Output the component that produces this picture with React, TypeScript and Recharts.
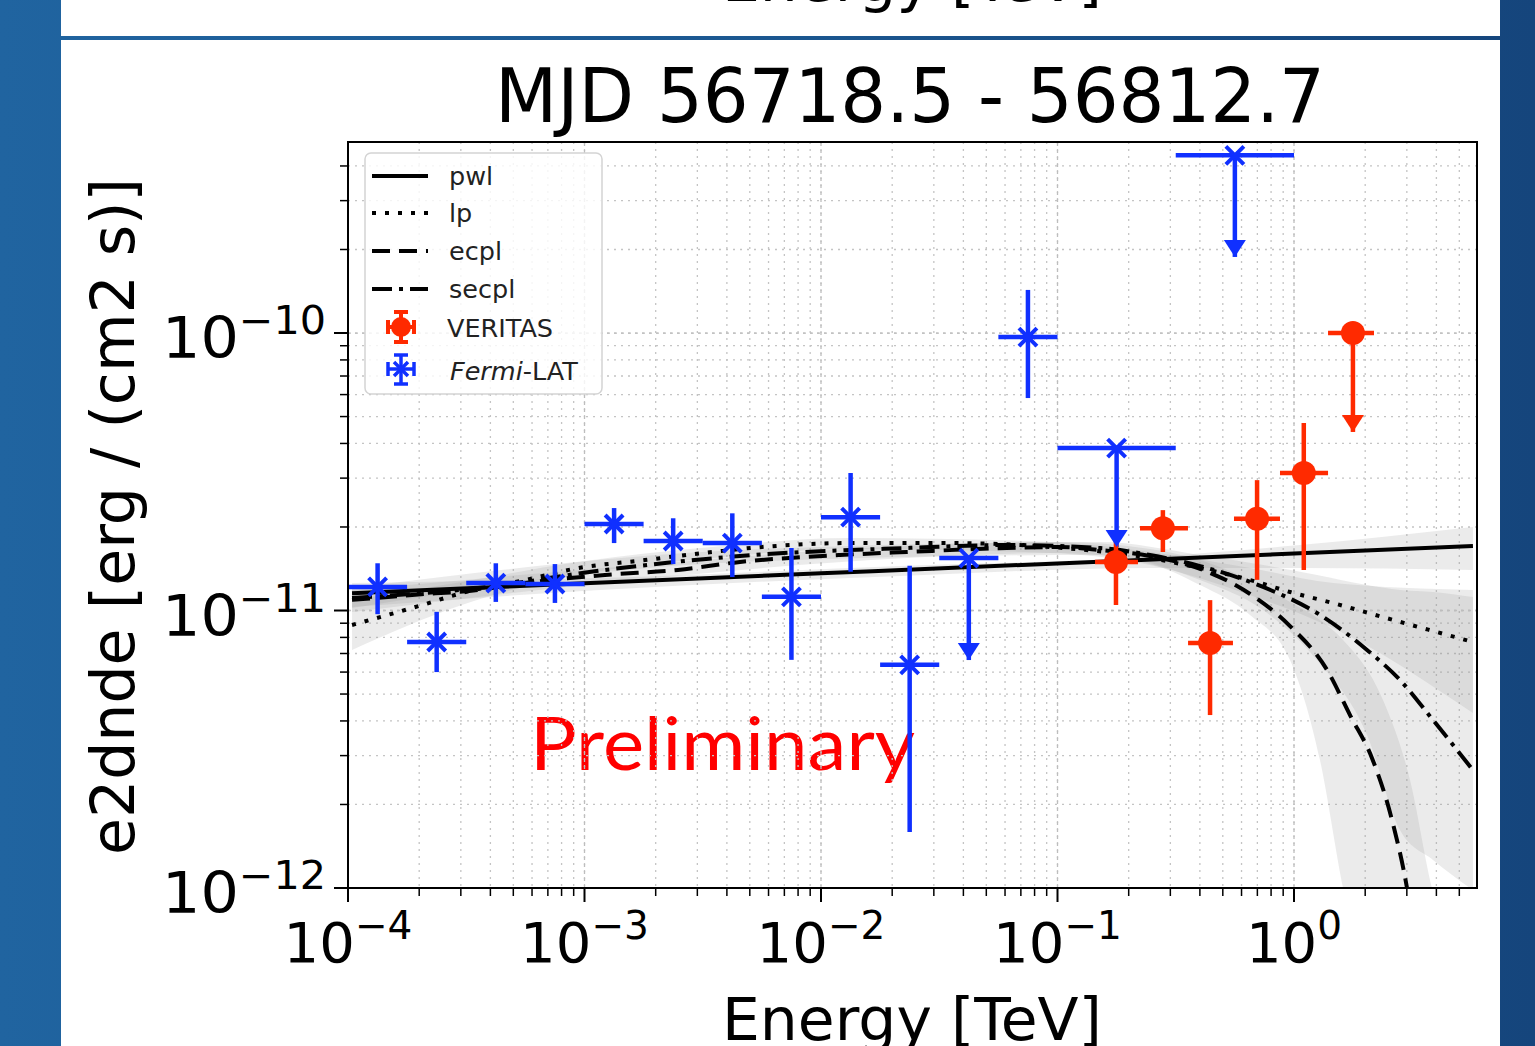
import React from 'react';
import {
  ComposedChart,
  Line,
  Area,
  Scatter,
  ErrorBar,
  XAxis,
  YAxis,
  CartesianGrid,
  ReferenceLine,
} from 'recharts';

const FONT = '"DejaVu Sans", sans-serif';
const BLUE = '#1030ff';
const RED = '#ff2a00';

// Fermi-LAT bins (energy in TeV, e2dnde in erg/cm2/s)
const fermiE = [1.334e-4, 2.371e-4, 4.217e-4, 7.499e-4, 1.334e-3, 2.371e-3, 4.217e-3, 7.499e-3, 1.334e-2, 2.371e-2, 4.217e-2, 7.499e-2, 0.1778, 0.5623];
const fermiELo = [1.0e-4, 1.778e-4, 3.162e-4, 5.623e-4, 1.0e-3, 1.778e-3, 3.162e-3, 5.623e-3, 1.0e-2, 1.778e-2, 3.162e-2, 5.623e-2, 0.1, 0.3162];
const fermiEHi = [1.778e-4, 3.162e-4, 5.623e-4, 1.0e-3, 1.778e-3, 3.162e-3, 5.623e-3, 1.0e-2, 1.778e-2, 3.162e-2, 5.623e-2, 0.1, 0.3162, 1.0];
const fermiF = [1.216e-11, 7.7e-12, 1.256e-11, 1.246e-11, 2.05e-11, 1.78e-11, 1.75e-11, 1.12e-11, 2.17e-11, 6.37e-12, 1.545e-11, 9.67e-11, 3.85e-11, 4.37e-10];
const fermiFLo = [9.7e-12, 6.0e-12, 1.074e-11, 1.065e-11, 1.75e-11, 1.47e-11, 1.32e-11, 6.64e-12, 1.38e-11, 1.59e-12, 6.63e-12, 5.83e-11, 1.694e-11, 1.88e-10];
const fermiFHi = [1.48e-11, 9.89e-12, 1.48e-11, 1.47e-11, 2.34e-11, 2.15e-11, 2.24e-11, 1.68e-11, 3.13e-11, 1.45e-11, 1.545e-11, 1.43e-10, 3.85e-11, 4.37e-10];
const fermiUL = [false, false, false, false, false, false, false, false, false, false, true, false, true, true];

// VERITAS bins
const vtsE = [0.1767, 0.279, 0.4416, 0.698, 1.1, 1.775];
const vtsELo = [0.1441, 0.2233, 0.3565, 0.5575, 0.8725, 1.393];
const vtsEHi = [0.2189, 0.3562, 0.552, 0.8725, 1.393, 2.179];
const vtsF = [1.497e-11, 1.98e-11, 7.64e-12, 2.14e-11, 3.13e-11, 1.0e-10];
const vtsFLo = [1.047e-11, 1.625e-11, 4.2e-12, 1.29e-11, 1.4e-11, 4.4e-11];
const vtsFHi = [1.795e-11, 2.3e-11, 1.09e-11, 2.95e-11, 4.74e-11, 1.0e-10];
const vtsUL = [false, false, false, false, false, true];

// model curves
const pwlE = [1.04e-4, 1e-3, 1e-2, 1e-1, 1, 5.71];
const pwlF = [1.155e-11, 1.253e-11, 1.361e-11, 1.478e-11, 1.605e-11, 1.708e-11];

const lpE = [1.04e-4, 2.06e-4, 3.03e-4, 5.6e-4, 9.39e-4, 1.8e-3, 3.46e-3, 5.63e-3, 1.327e-2, 3.51e-2, 9.3e-2, 0.246, 0.401, 0.652, 0.962, 1.462, 2.377, 5.71];
const lpF = [8.87e-12, 1.047e-11, 1.156e-11, 1.288e-11, 1.422e-11, 1.52e-11, 1.625e-11, 1.694e-11, 1.75e-11, 1.75e-11, 1.694e-11, 1.545e-11, 1.422e-11, 1.288e-11, 1.166e-11, 1.064e-11, 9.47e-12, 7.7e-12];

const ecplE = [1.04e-4, 1.865e-4, 3.55e-4, 5.6e-4, 1.221e-3, 2.485e-3, 4.545e-3, 1.203e-2, 2.31e-2, 6.115e-2, 0.1025, 0.1514, 0.246, 0.4123, 0.652, 0.962, 1.379, 1.725, 2.15, 2.6, 3.005, 3.3];
const ecplF = [1.092e-11, 1.138e-11, 1.186e-11, 1.256e-11, 1.343e-11, 1.4e-11, 1.496e-11, 1.585e-11, 1.625e-11, 1.68e-11, 1.694e-11, 1.652e-11, 1.572e-11, 1.4e-11, 1.147e-11, 8.79e-12, 6.11e-12, 4.2e-12, 2.9e-12, 1.75e-12, 1.0e-12, 6.0e-13];

const secplE = [1.04e-4, 3.55e-4, 1.221e-3, 4.545e-3, 2.31e-2, 6.115e-2, 0.1514, 0.246, 0.401, 0.74, 1.251, 2.036, 2.805, 3.87, 5.71];
const secplF = [1.11e-11, 1.205e-11, 1.4e-11, 1.572e-11, 1.68e-11, 1.722e-11, 1.68e-11, 1.585e-11, 1.446e-11, 1.216e-11, 9.79e-12, 7.21e-12, 5.62e-12, 4.03e-12, 2.66e-12];

// uncertainty bands (lower, upper)
const pwlBandE = [1.04e-4, 1.163e-3, 2.158e-2, 0.246, 1.06, 5.71];
const pwlBandLo = [1.029e-11, 1.186e-11, 1.332e-11, 1.423e-11, 1.423e-11, 1.4e-11];
const pwlBandHi = [1.256e-11, 1.31e-11, 1.447e-11, 1.559e-11, 1.722e-11, 2.0e-11];

const lpBandE = [1.04e-4, 3.03e-4, 9.39e-4, 3.46e-3, 1.326e-2, 9.3e-2, 0.246, 0.6516, 1.462, 5.71];
const lpBandLo = [7.21e-12, 1.047e-11, 1.343e-11, 1.546e-11, 1.666e-11, 1.611e-11, 1.459e-11, 1.137e-11, 8.65e-12, 4.27e-12];
const lpBandHi = [1.091e-11, 1.267e-11, 1.496e-11, 1.694e-11, 1.825e-11, 1.765e-11, 1.625e-11, 1.423e-11, 1.256e-11, 1.186e-11];

const ecplBandE = [1.04e-4, 1.221e-3, 2.31e-2, 0.1025, 0.246, 0.4004, 0.6516, 0.9618, 1.288, 1.612, 2.378, 3.094, 3.833, 5.71];
const ecplBandLo = [9.88e-12, 1.256e-11, 1.546e-11, 1.611e-11, 1.471e-11, 1.235e-11, 9.63e-12, 6.63e-12, 2.89e-12, 1.0e-12, 2.61e-13, 1.72e-13, 1.72e-13, 1.72e-13];
const ecplBandHi = [1.186e-11, 1.423e-11, 1.708e-11, 1.765e-11, 1.666e-11, 1.521e-11, 1.288e-11, 1.073e-11, 9.24e-12, 7.83e-12, 4.76e-12, 2.45e-12, 1.0e-12, 3.95e-13];

const secplBandE = [1.04e-4, 4.545e-3, 0.1513, 0.4004, 0.7396, 1.251, 2.036, 2.806, 3.87, 5.71];
const secplBandLo = [1.021e-11, 1.496e-11, 1.585e-11, 1.288e-11, 1.004e-11, 6.63e-12, 3.56e-12, 1.618e-12, 1.262e-12, 9.83e-13];
const secplBandHi = [1.205e-11, 1.652e-11, 1.765e-11, 1.585e-11, 1.459e-11, 1.343e-11, 1.235e-11, 1.186e-11, 1.166e-11, 1.118e-11];

// axes
const X_DOMAIN: [number, number] = [1e-4, 5.94];
const Y_DOMAIN: [number, number] = [1e-12, 4.88e-10];
const xDecades = [1e-4, 1e-3, 1e-2, 1e-1, 1];
const xMajorLabels = ['−4', '−3', '−2', '−1', '0'];
const yDecades = [1e-12, 1e-11, 1e-10];
const yMajorLabels = ['−12', '−11', '−10'];
const minorSteps = [1, 2, 3, 4, 5, 6, 7, 8, 9];

const xTicks = xDecades.flatMap((d) => minorSteps.map((k) => d * k)).filter((v) => v <= X_DOMAIN[1]);
const yTicks = yDecades.flatMap((d) => minorSteps.map((k) => d * k)).filter((v) => v <= Y_DOMAIN[1]);

const curve = (xs: number[], ys: number[]) => xs.map((x, i) => ({ x, y: ys[i] }));
const band = (xs: number[], lo: number[], hi: number[]) => xs.map((x, i) => ({ x, band: [lo[i], hi[i]] }));

const points = (e: number[], eLo: number[], eHi: number[], f: number[], fLo: number[], fHi: number[]) =>
  e.map((x, i) => ({
    x,
    y: f[i],
    ex: [x - eLo[i], eHi[i] - x],
    ey: [f[i] - fLo[i], fHi[i] - f[i]],
  }));

const arrows = (e: number[], fLo: number[], ul: boolean[]) =>
  e.map((x, i) => ({ x, y: fLo[i], ul: ul[i] })).filter((p) => p.ul);

const fermiPoints = points(fermiE, fermiELo, fermiEHi, fermiF, fermiFLo, fermiFHi);
const fermiArrows = arrows(fermiE, fermiFLo, fermiUL);
const vtsPoints = points(vtsE, vtsELo, vtsEHi, vtsF, vtsFLo, vtsFHi);
const vtsArrows = arrows(vtsE, vtsFLo, vtsUL);

const majorIndex = (list: number[], v: number) => list.findIndex((m) => Math.abs(m - v) / m < 1e-6);

function XTick(props: any) {
  const { x, y, payload } = props;
  const i = majorIndex(xDecades, payload.value);
  const major = i >= 0;
  return (
    <g>
      <line x1={x} x2={x} y1={y} y2={y + (major ? 14 : 8)} stroke="#000" strokeWidth={major ? 2 : 1.5} />
      {major && (
        <text x={x} y={y + 74} textAnchor="middle" fontFamily={FONT} fill="#000">
          <tspan fontSize={56}>10</tspan>
          <tspan fontSize={39} dy={-23}>
            {xMajorLabels[i]}
          </tspan>
        </text>
      )}
    </g>
  );
}

function YTick(props: any) {
  const { x, y, payload } = props;
  const i = majorIndex(yDecades, payload.value);
  const major = i >= 0;
  return (
    <g>
      <line x1={x} x2={x - (major ? 14 : 8)} y1={y} y2={y} stroke="#000" strokeWidth={major ? 2 : 1.5} />
      {major && (
        <text x={x - 22} y={y + 25} textAnchor="end" fontFamily={FONT} fill="#000" textLength={164} lengthAdjust="spacingAndGlyphs">
          <tspan fontSize={57}>10</tspan>
          <tspan fontSize={39} dy={-24}>
            {yMajorLabels[i]}
          </tspan>
        </text>
      )}
    </g>
  );
}

const FermiMark = (p: any) => {
  const { cx, cy } = p;
  const s = 9;
  return (
    <path
      d={`M${cx - s},${cy - s}L${cx + s},${cy + s}M${cx - s},${cy + s}L${cx + s},${cy - s}`}
      stroke={BLUE}
      strokeWidth={4}
    />
  );
};

const VtsMark = (p: any) => <circle cx={p.cx} cy={p.cy} r={12} fill={RED} />;

const arrowHead = (color: string) => (p: any) => (
  <path d={`M${p.cx - 11},${p.cy - 17}L${p.cx + 11},${p.cy - 17}L${p.cx},${p.cy}Z`} fill={color} />
);

const DOTTED = '4 9';
const DASHED = '18 9';
const DASHDOT = '20 7 4 7';

function Legend() {
  const rows = [
    { y: 176, dash: undefined, label: 'pwl' },
    { y: 213, dash: DOTTED, label: 'lp' },
    { y: 251, dash: DASHED, label: 'ecpl' },
    { y: 289, dash: DASHDOT, label: 'secpl' },
  ];
  const mx = 401;
  return (
    <g fontFamily={FONT} fontSize={25.5} fill="#222">
      <rect x={365} y={153} width={237} height={241} rx={6} fill="#fff" fillOpacity={0.82} stroke="#d4d4d4" strokeWidth={1.5} />
      {rows.map((r) => (
        <g key={r.label}>
          <line x1={372} x2={428} y1={r.y} y2={r.y} stroke="#000" strokeWidth={4} strokeDasharray={r.dash} />
          <text x={449} y={r.y + 9}>
            {r.label}
          </text>
        </g>
      ))}
      <g stroke={RED} strokeWidth={4}>
        <line x1={mx} x2={mx} y1={311} y2={343} />
        <line x1={mx - 14} x2={mx + 14} y1={327} y2={327} />
        <line x1={mx - 7} x2={mx + 7} y1={312} y2={312} />
        <line x1={mx - 7} x2={mx + 7} y1={342} y2={342} />
        <line x1={mx - 13} x2={mx - 13} y1={320} y2={334} />
        <line x1={mx + 13} x2={mx + 13} y1={320} y2={334} />
      </g>
      <circle cx={mx} cy={327} r={10} fill={RED} />
      <text x={447} y={337}>
        VERITAS
      </text>
      <g stroke={BLUE} strokeWidth={3.5}>
        <line x1={mx} x2={mx} y1={354} y2={385} />
        <line x1={mx - 14} x2={mx + 14} y1={369} y2={369} />
        <line x1={mx - 7} x2={mx + 7} y1={355} y2={355} />
        <line x1={mx - 7} x2={mx + 7} y1={384} y2={384} />
        <line x1={mx - 13} x2={mx - 13} y1={362} y2={376} />
        <line x1={mx + 13} x2={mx + 13} y1={362} y2={376} />
        <path d={`M${mx - 7},${362}L${mx + 7},${376}M${mx - 7},${376}L${mx + 7},${362}`} />
      </g>
      <text x={450} y={380}>
        <tspan fontStyle="italic">Fermi</tspan>-LAT
      </text>
    </g>
  );
}

export default function App() {
  return (
    <div
      style={{
        position: 'absolute',
        left: 0,
        top: 0,
        width: 1535,
        height: 1046,
        overflow: 'hidden',
        background: 'linear-gradient(90deg, #2064a0 0%, #1b5790 50%, #15457c 100%)',
      }}
    >
      <div style={{ position: 'absolute', left: 61, top: 0, width: 1439, height: 36, background: '#fff', overflow: 'hidden' }}>
        <svg width={1439} height={36} style={{ position: 'absolute', left: 0, top: 0 }}>
          <text x={722 - 61} y={1} fontFamily={FONT} fontSize={58} textLength={380} lengthAdjust="spacingAndGlyphs" fill="#000">
            Energy [TeV]
          </text>
        </svg>
      </div>
      <div style={{ position: 'absolute', left: 61, top: 40, width: 1439, height: 1006, background: '#fff' }} />

      <svg width={1535} height={1046} style={{ position: 'absolute', left: 0, top: 0 }}>
        <text x={530} y={770} fontFamily="Lato, sans-serif" fontSize={74} textLength={385} lengthAdjust="spacingAndGlyphs" fill="#ff0000">
          Preliminary
        </text>
      </svg>

      <div style={{ position: 'absolute', left: 0, top: 0 }}>
        <ComposedChart width={1535} height={1046} margin={{ top: 142, right: 58, bottom: 98, left: 288 }}>
          <CartesianGrid stroke="#c4c4c4" strokeDasharray="2 5" strokeWidth={1.3} />
          <XAxis
            type="number"
            dataKey="x"
            scale="log"
            domain={X_DOMAIN}
            allowDataOverflow
            ticks={xTicks}
            interval={0}
            tick={<XTick />}
            tickLine={false}
            axisLine={false}
            tickSize={0}
            tickMargin={0}
            height={60}
          />
          <YAxis
            type="number"
            scale="log"
            domain={Y_DOMAIN}
            allowDataOverflow
            ticks={yTicks}
            interval={0}
            tick={<YTick />}
            tickLine={false}
            axisLine={false}
            tickSize={0}
            tickMargin={0}
            width={60}
          />
          {xDecades.slice(1).map((v) => (
            <ReferenceLine key={`vx${v}`} x={v} stroke="#bdbdbd" strokeDasharray="3 4" strokeWidth={1.3} />
          ))}
          {yDecades.slice(1).map((v) => (
            <ReferenceLine key={`hy${v}`} y={v} stroke="#bdbdbd" strokeDasharray="3 4" strokeWidth={1.3} />
          ))}

          <Area data={band(pwlBandE, pwlBandLo, pwlBandHi)} dataKey="band" type="monotone" stroke="none" fill="#999" fillOpacity={0.2} isAnimationActive={false} />
          <Area data={band(lpBandE, lpBandLo, lpBandHi)} dataKey="band" type="monotone" stroke="none" fill="#999" fillOpacity={0.2} isAnimationActive={false} />
          <Area data={band(ecplBandE, ecplBandLo, ecplBandHi)} dataKey="band" type="monotone" stroke="none" fill="#999" fillOpacity={0.2} isAnimationActive={false} />
          <Area data={band(secplBandE, secplBandLo, secplBandHi)} dataKey="band" type="monotone" stroke="none" fill="#999" fillOpacity={0.2} isAnimationActive={false} />

          <Line data={curve(pwlE, pwlF)} dataKey="y" type="monotone" stroke="#000" strokeWidth={4} dot={false} activeDot={false} isAnimationActive={false} />
          <Line data={curve(lpE, lpF)} dataKey="y" type="monotone" stroke="#000" strokeWidth={4} strokeDasharray={DOTTED} dot={false} activeDot={false} isAnimationActive={false} />
          <Line data={curve(ecplE, ecplF)} dataKey="y" type="monotone" stroke="#000" strokeWidth={4} strokeDasharray={DASHED} dot={false} activeDot={false} isAnimationActive={false} />
          <Line data={curve(secplE, secplF)} dataKey="y" type="monotone" stroke="#000" strokeWidth={4} strokeDasharray={DASHDOT} dot={false} activeDot={false} isAnimationActive={false} />

          <Scatter data={fermiPoints} dataKey="y" shape={FermiMark} isAnimationActive={false}>
            <ErrorBar dataKey="ex" direction="x" width={0} strokeWidth={4.5} stroke={BLUE} isAnimationActive={false} />
            <ErrorBar dataKey="ey" direction="y" width={0} strokeWidth={4.5} stroke={BLUE} isAnimationActive={false} />
          </Scatter>
          <Scatter data={fermiArrows} dataKey="y" shape={arrowHead(BLUE)} isAnimationActive={false} />

          <Scatter data={vtsPoints} dataKey="y" shape={VtsMark} isAnimationActive={false}>
            <ErrorBar dataKey="ex" direction="x" width={0} strokeWidth={4.5} stroke={RED} isAnimationActive={false} />
            <ErrorBar dataKey="ey" direction="y" width={0} strokeWidth={4.5} stroke={RED} isAnimationActive={false} />
          </Scatter>
          <Scatter data={vtsArrows} dataKey="y" shape={arrowHead(RED)} isAnimationActive={false} />
        </ComposedChart>
      </div>

      <svg width={1535} height={1046} style={{ position: 'absolute', left: 0, top: 0, pointerEvents: 'none' }}>
        <rect x={348} y={142} width={1129} height={746} fill="none" stroke="#000" strokeWidth={2} />
        <text x={495} y={122} fontFamily={FONT} fontSize={74} textLength={830} lengthAdjust="spacingAndGlyphs" fill="#000">
          MJD 56718.5 - 56812.7
        </text>
        <text x={722} y={1040} fontFamily={FONT} fontSize={58} textLength={380} lengthAdjust="spacingAndGlyphs" fill="#000">
          Energy [TeV]
        </text>
        <text
          transform="translate(134,855) rotate(-90)"
          fontFamily={FONT}
          fontSize={60}
          textLength={677}
          lengthAdjust="spacingAndGlyphs"
          fill="#000"
        >
          e2dnde [erg / (cm2 s)]
        </text>
        <Legend />
      </svg>
    </div>
  );
}
